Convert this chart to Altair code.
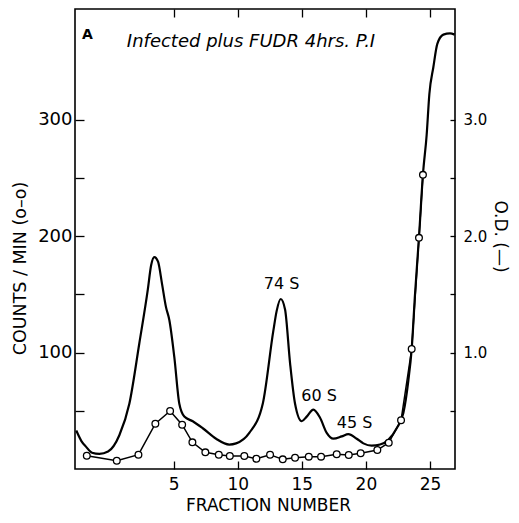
import altair as alt
import pandas as pd

# O.D. curve (solid line), fraction number vs optical density
od_frac = [-2.6, -2.2, -1.83, -1.37, -0.8, -0.12, 0.76, 1.54, 2.32, 2.98, 3.24, 3.49, 3.78,
           4.09, 4.4, 4.66, 5.05, 5.44, 5.83, 6.49, 7.27, 8.31, 9.34, 9.87, 10.9, 11.95,
           12.78, 13.04, 13.35, 13.69, 14.08, 14.47, 14.99, 15.38, 15.9, 16.42, 16.94,
           17.46, 18.11, 18.63, 19.28, 19.8, 20.45, 21.1, 21.75, 22.4, 22.92, 23.31, 23.57,
           23.83, 24.14, 24.45, 24.74, 24.95, 25.26, 25.57, 26.04, 26.56, 26.92]
od_val = [0.33, 0.24, 0.19, 0.14, 0.13, 0.15, 0.29, 0.56, 1.08, 1.54, 1.75, 1.82, 1.78,
          1.59, 1.39, 1.28, 0.96, 0.56, 0.45, 0.41, 0.35, 0.26, 0.21, 0.22, 0.31, 0.56,
          1.19, 1.36, 1.46, 1.37, 0.91, 0.56, 0.41, 0.45, 0.51, 0.44, 0.31,
          0.26, 0.28, 0.30, 0.26, 0.22, 0.20, 0.21, 0.25, 0.35, 0.48, 0.76, 1.03,
          1.50, 1.99, 2.53, 2.87, 3.22, 3.45, 3.65, 3.73, 3.74, 3.73]

# Counts / min (open circles)
cpm_frac = [-1.78, 0.56, 2.25, 3.57, 4.72, 5.66, 6.46, 7.47, 8.52, 9.38, 10.51, 11.45,
            12.52, 13.51, 14.47, 15.54, 16.5, 17.72, 18.66, 19.59, 20.89, 21.78, 22.74,
            23.57, 24.14, 24.45]
cpm_val = [11.4, 7.1, 12.3, 38.9, 49.8, 38.0, 22.9, 14.3, 12.3, 11.2, 11.2, 8.8,
           12.3, 8.3, 9.7, 10.6, 10.6, 12.6, 12.0, 13.5, 16.3, 22.6, 41.8,
           103.0, 198.5, 252.6]

peak_labels = ["74 S", "60 S", "45 S"]
peak_frac = [13.42, 16.34, 19.11]
peak_od = [1.59, 0.63, 0.395]

x_ticks = [5, 10, 15, 20, 25]
cpm_ticks = [50, 100, 150, 200, 250, 300]
od_ticks = [0.5, 1.0, 1.5, 2.0, 2.5, 3.0]

FONT = "DejaVu Sans"
x_dom = [-2.7, 26.95]

od_df = pd.DataFrame({"frac": od_frac, "od": od_val})
cpm_df = pd.DataFrame({"frac": cpm_frac, "cpm": cpm_val})
lab_df = pd.DataFrame({"frac": peak_frac, "od": peak_od, "label": peak_labels})

x_top = alt.X("frac:Q", scale=alt.Scale(domain=x_dom, nice=False, zero=False),
              axis=alt.Axis(orient="top", values=x_ticks, labels=False, domain=False,
                            grid=False, tickSize=8, offset=-8, title=None))
y_od = alt.Y("od:Q", scale=alt.Scale(domain=[0, 3.95], nice=False, zero=True),
             axis=alt.Axis(orient="right", values=od_ticks, format=".1f",
                           labelExpr="datum.value % 1 === 0 ? datum.label : ''",
                           domain=False, grid=False, tickSize=5, offset=-5, labelPadding=8,
                           labelFontSize=15, title="O.D. (—)", titleAngle=90,
                           titleX=49, titleY=227, titleAlign="center",
                           titleBaseline="middle", titleFontSize=17))

od_line = alt.Chart(od_df).mark_line(color="black", strokeWidth=2.2,
                                     interpolate="monotone").encode(x=x_top, y=y_od)
od_text = alt.Chart(lab_df).mark_text(font=FONT, fontSize=16, color="black").encode(
    x=x_top, y=y_od, text="label:N")
od_layer = alt.layer(od_line, od_text)

x_bot = alt.X("frac:Q", scale=alt.Scale(domain=x_dom, nice=False, zero=False),
              axis=alt.Axis(orient="bottom", values=x_ticks, domain=False, grid=False,
                            tickSize=8, offset=-8, labelPadding=7, labelFontSize=17,
                            title="FRACTION NUMBER", titleFontSize=17, titleX=193,
                            titleY=44, titleAlign="center", titleBaseline="middle"))
y_cpm = alt.Y("cpm:Q", scale=alt.Scale(domain=[0, 395], nice=False, zero=True),
              axis=alt.Axis(orient="left", values=cpm_ticks,
                            labelExpr="datum.value % 100 === 0 ? datum.label : ''",
                            domain=False, grid=False, tickSize=9, offset=-9, labelPadding=3,
                            labelFontSize=18, title="COUNTS / MIN (o–o)", titleAngle=270,
                            titleX=-64, titleY=259, titleAlign="center",
                            titleBaseline="middle", titleFontSize=17.5))

cpm_line = alt.Chart(cpm_df).mark_line(
    color="black", strokeWidth=1.5,
    point=alt.OverlayMarkDef(shape="circle", filled=False, fill="white", stroke="black",
                             strokeWidth=1.3, size=45, opacity=1)
).encode(x=x_bot, y=y_cpm)

panel = alt.Chart(pd.DataFrame({"t": ["A"]})).mark_text(
    font=FONT, fontSize=14, fontWeight="bold", color="black").encode(
    x=alt.value(12.5), y=alt.value(26), text="t:N")
title_txt = alt.Chart(pd.DataFrame({"t": ["Infected plus FUDR 4hrs. P.I"]})).mark_text(
    font=FONT, fontSize=18, fontStyle="italic", color="black").encode(
    x=alt.value(176), y=alt.value(33), text="t:N")

chart = alt.layer(od_layer, cpm_line, panel, title_txt).resolve_scale(
    x="independent", y="independent"
).properties(
    width=380, height=460,
    padding={"left": 67, "top": 1, "right": 56, "bottom": 46},
    autosize=alt.AutoSizeParams(type="none"),
    background="white",
).configure_view(stroke="black", strokeWidth=1.6).configure_axis(
    tickColor="black", tickWidth=1.3, labelColor="black", titleColor="black",
    labelFont=FONT, titleFont=FONT, titleFontWeight="normal",
).configure_text(font=FONT)

chart.save("out.html", embed_options={"renderer": "svg", "actions": False})
